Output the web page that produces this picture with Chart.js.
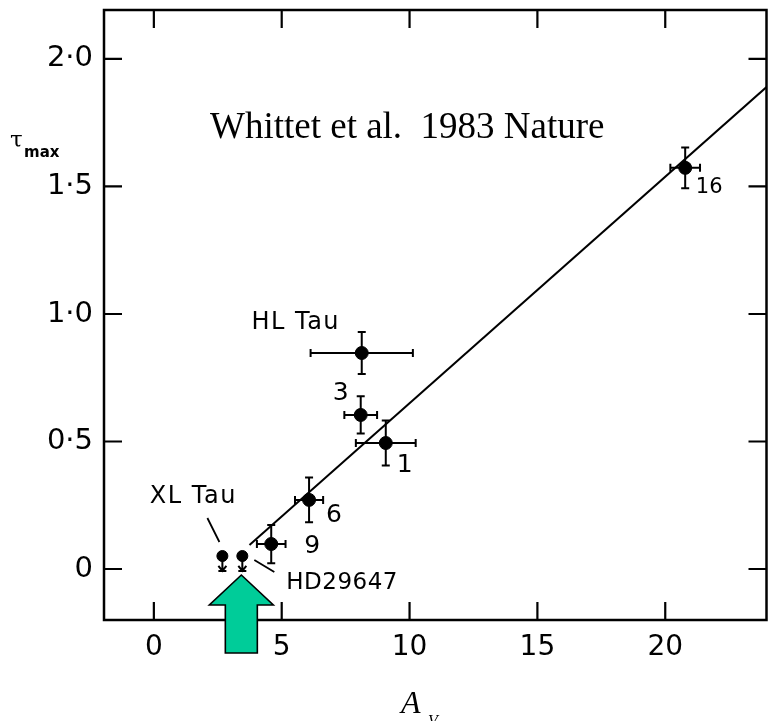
<!DOCTYPE html>
<html>
<head>
<meta charset="utf-8">
<script src="https://cdn.jsdelivr.net/npm/chart.js@4/dist/chart.umd.min.js"></script>
<style>
  html, body { margin: 0; padding: 0; background: #ffffff; }
  #wrap { width: 774px; height: 721px; position: relative; }
</style>
</head>
<body>
<div id="wrap"><canvas id="c" width="774" height="721"></canvas></div>
<script>
// ---- Data ----
const xTickValues = [0, 5, 10, 15, 20];
const xTickLabels = ['0', '5', '10', '15', '20'];
const yTickValues = [0, 0.5, 1.0, 1.5, 2.0];
const yTickLabels = ['0', '0·5', '1·0', '1·5', '2·0'];

// detections (A_V, tau_max) with error bars
const starNames = ['16', 'HL Tau', '3', '1', '6', '9'];
const starAv    = [20.78, 8.13, 8.09, 9.07, 6.07, 4.59];
const starTau   = [1.573, 0.847, 0.604, 0.494, 0.271, 0.098];
const starAvErr = [0.58, 2.0, 0.64, 1.17, 0.55, 0.56];
const starTauErr= [0.08, 0.082, 0.073, 0.088, 0.088, 0.075];

// upper limits
const limitNames = ['XL Tau', 'HD29647'];
const limitAv    = [2.68, 3.46];
const limitTau   = [0.051, 0.051];

// fitted line end points
const fitAv  = [3.74, 23.96];
const fitTau = [0.094, 1.89];

const titleText = 'Whittet et al.  1983 Nature';

// ---- style (pixel offsets for annotations) ----
const starLabelStyle = [
  { dx: 24, dy: 20, size: 21 },
  { dx: -66, dy: -30, size: 24, spacing: '1.5px' },
  { dx: -20, dy: -21, size: 25 },
  { dx: 19, dy: 22, size: 25 },
  { dx: 25, dy: 16, size: 25 },
  { dx: 41, dy: 2, size: 25 }
];

const annotPlugin = {
  id: 'annot',
  afterDatasetsDraw(chart) {
    const ctx = chart.ctx;
    const xs = chart.scales.x, ys = chart.scales.y;
    const a = chart.chartArea;
    ctx.save();
    ctx.strokeStyle = '#000';
    ctx.fillStyle = '#000';
    ctx.lineCap = 'butt';

    // frame
    ctx.lineWidth = 2.5;
    ctx.strokeRect(a.left, a.top, a.right - a.left, a.bottom - a.top);

    // inward ticks on all four sides
    const tl = 18;
    ctx.lineWidth = 2.2;
    ctx.beginPath();
    xTickValues.forEach(v => {
      const px = xs.getPixelForValue(v);
      ctx.moveTo(px, a.bottom); ctx.lineTo(px, a.bottom - tl);
      ctx.moveTo(px, a.top); ctx.lineTo(px, a.top + tl);
    });
    yTickValues.forEach(v => {
      const py = ys.getPixelForValue(v);
      ctx.moveTo(a.left, py); ctx.lineTo(a.left + tl, py);
      ctx.moveTo(a.right, py); ctx.lineTo(a.right - tl, py);
    });
    ctx.stroke();

    // error bars
    ctx.lineWidth = 2;
    const cap = 4;
    starAv.forEach((xv, i) => {
      const px = xs.getPixelForValue(xv), py = ys.getPixelForValue(starTau[i]);
      const x1 = xs.getPixelForValue(xv - starAvErr[i]), x2 = xs.getPixelForValue(xv + starAvErr[i]);
      const y1 = ys.getPixelForValue(starTau[i] - starTauErr[i]), y2 = ys.getPixelForValue(starTau[i] + starTauErr[i]);
      ctx.beginPath();
      ctx.moveTo(x1, py); ctx.lineTo(x2, py);
      ctx.moveTo(px, y1); ctx.lineTo(px, y2);
      ctx.moveTo(x1, py - cap); ctx.lineTo(x1, py + cap);
      ctx.moveTo(x2, py - cap); ctx.lineTo(x2, py + cap);
      ctx.moveTo(px - cap, y1); ctx.lineTo(px + cap, y1);
      ctx.moveTo(px - cap, y2); ctx.lineTo(px + cap, y2);
      ctx.stroke();
    });

    // upper limit arrows
    limitAv.forEach((xv, i) => {
      const px = xs.getPixelForValue(xv), py = ys.getPixelForValue(limitTau[i]);
      ctx.lineWidth = 2;
      ctx.beginPath();
      ctx.moveTo(px, py + 4); ctx.lineTo(px, py + 14);
      ctx.moveTo(px - 4, py + 10); ctx.lineTo(px, py + 15); ctx.lineTo(px + 4, py + 10);
      ctx.moveTo(px - 4, py + 15); ctx.lineTo(px + 4, py + 15);
      ctx.stroke();
    });

    // star labels
    ctx.textAlign = 'center';
    ctx.textBaseline = 'middle';
    starNames.forEach((name, i) => {
      const st = starLabelStyle[i];
      const px = xs.getPixelForValue(starAv[i]), py = ys.getPixelForValue(starTau[i]);
      ctx.font = st.size + 'px "DejaVu Sans"';
      ctx.letterSpacing = st.spacing || '0px';
      ctx.fillText(name, px + st.dx, py + st.dy);
    });
    ctx.letterSpacing = '0px';

    // upper-limit labels and leader lines
    const xlx = xs.getPixelForValue(limitAv[0]), xly = ys.getPixelForValue(limitTau[0]);
    const hdx = xs.getPixelForValue(limitAv[1]), hdy = ys.getPixelForValue(limitTau[1]);
    ctx.font = '24px "DejaVu Sans"';
    ctx.letterSpacing = '1.5px';
    ctx.fillText(limitNames[0], xlx - 29, xly - 59);
    ctx.textAlign = 'left';
    ctx.font = '23px "DejaVu Sans"';
    ctx.letterSpacing = '0.5px';
    ctx.fillText(limitNames[1], hdx + 44, hdy + 27);
    ctx.letterSpacing = '0px';
    ctx.lineWidth = 1.8;
    ctx.beginPath();
    ctx.moveTo(xlx - 15, xly - 38); ctx.lineTo(xlx - 3, xly - 14);
    ctx.moveTo(hdx + 12, hdy + 4); ctx.lineTo(hdx + 32, hdy + 16);
    ctx.stroke();

    // green block arrow pointing at HD29647
    const tipX = hdx - 1, tipY = hdy + 19;
    ctx.beginPath();
    ctx.moveTo(tipX, tipY);
    ctx.lineTo(tipX + 32, tipY + 30);
    ctx.lineTo(tipX + 16, tipY + 30);
    ctx.lineTo(tipX + 16, tipY + 78);
    ctx.lineTo(tipX - 16, tipY + 78);
    ctx.lineTo(tipX - 16, tipY + 30);
    ctx.lineTo(tipX - 32, tipY + 30);
    ctx.closePath();
    ctx.fillStyle = '#00CC99';
    ctx.fill();
    ctx.lineWidth = 1.6;
    ctx.strokeStyle = '#000';
    ctx.stroke();
    ctx.fillStyle = '#000';

    // title
    ctx.textAlign = 'left';
    ctx.textBaseline = 'alphabetic';
    ctx.font = '37px "Liberation Serif"';
    ctx.fillText(titleText, 210, 138);

    // y axis title: tau_max
    ctx.font = '23px "DejaVu Serif"';
    ctx.fillText('τ', 10, 147);
    ctx.font = 'bold 15px "DejaVu Sans"';
    ctx.fillText('max', 24, 157);

    // x axis title: A_V
    ctx.font = 'italic 32px "Liberation Serif"';
    ctx.fillText('A', 401, 713);
    ctx.font = 'italic 16px "Liberation Serif"';
    ctx.fillText('V', 428, 726);

    ctx.restore();
  }
};

new Chart(document.getElementById('c'), {
  type: 'scatter',
  data: {
    datasets: [
      {
        type: 'line',
        data: fitAv.map((x, i) => ({ x: x, y: fitTau[i] })),
        borderColor: '#000',
        borderWidth: 2,
        pointRadius: 0,
        fill: false
      },
      {
        data: starAv.map((x, i) => ({ x: x, y: starTau[i] })),
        backgroundColor: '#000',
        borderColor: '#000',
        pointRadius: 6.5,
        pointHoverRadius: 6.5
      },
      {
        data: limitAv.map((x, i) => ({ x: x, y: limitTau[i] })),
        backgroundColor: '#000',
        borderColor: '#000',
        pointRadius: 5.5,
        pointHoverRadius: 5.5
      }
    ]
  },
  options: {
    responsive: false,
    animation: false,
    events: [],
    layout: { padding: { top: 10, right: 2, left: 0, bottom: 0 } },
    plugins: { legend: { display: false }, tooltip: { enabled: false } },
    scales: {
      x: {
        type: 'linear',
        min: -1.95,
        max: 23.96,
        grid: { display: false, drawTicks: false },
        border: { display: false },
        afterBuildTicks: ax => { ax.ticks = xTickValues.map(v => ({ value: v })); },
        afterFit: ax => { ax.height = 101; ax.paddingLeft = 0; ax.paddingRight = 0; },
        ticks: {
          color: '#000',
          font: { family: 'DejaVu Sans', size: 28 },
          padding: 11,
          maxRotation: 0,
          callback: v => xTickLabels[xTickValues.indexOf(v)]
        }
      },
      y: {
        type: 'linear',
        min: -0.2,
        max: 2.192,
        grid: { display: false, drawTicks: false },
        border: { display: false },
        afterBuildTicks: ax => { ax.ticks = yTickValues.map(v => ({ value: v })); },
        afterFit: ax => { ax.width = 104; ax.paddingTop = 0; ax.paddingBottom = 0; },
        ticks: {
          color: '#000',
          font: { family: 'DejaVu Sans', size: 29 },
          padding: 11,
          callback: v => yTickLabels[yTickValues.indexOf(v)]
        }
      }
    }
  },
  plugins: [annotPlugin]
});
</script>
</body>
</html>
